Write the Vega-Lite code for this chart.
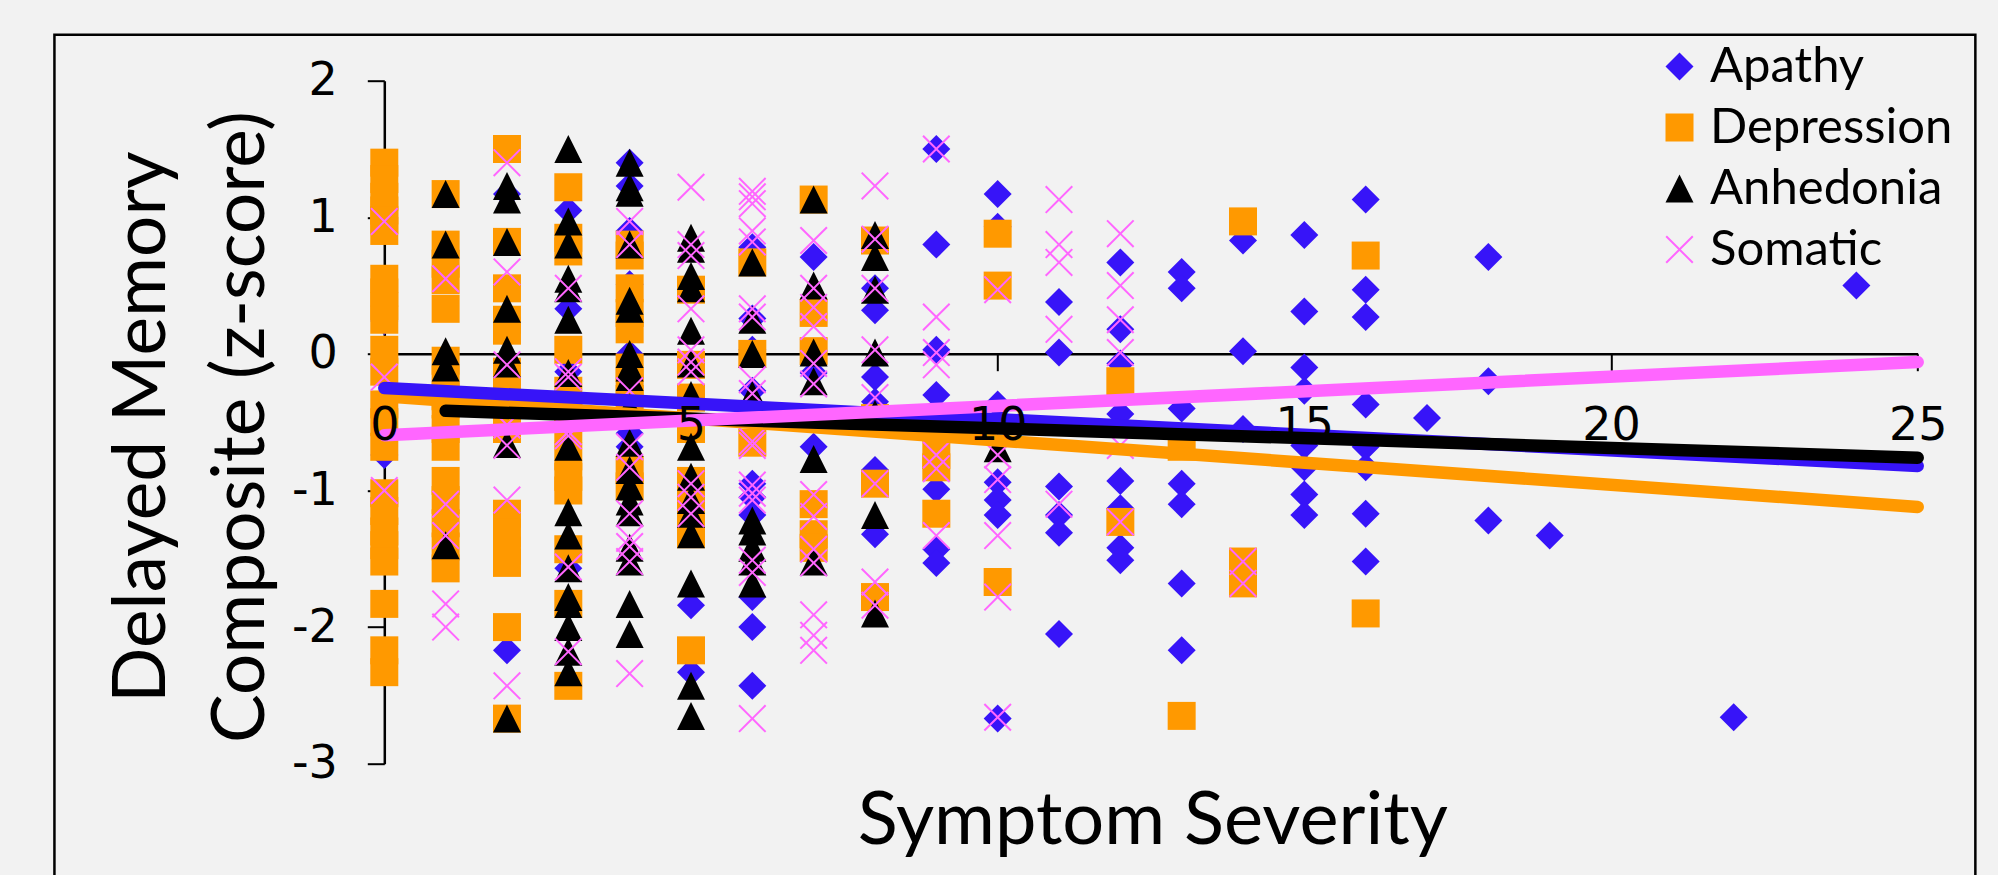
{"$schema":"https://vega.github.io/schema/vega-lite/v6.json","width":1533.4,"height":683,"autosize":{"type":"none"},"padding":{"left":384.3,"top":80.7,"right":80.3,"bottom":111.3},"background":"#f2f2f2","config":{"view":{"stroke":null}},"resolve":{"axis":{"x":"independent","y":"independent"}},"layer":[{"data":{"values":[{"frame":1}]},"mark":{"type":"rect","fill":"transparent","stroke":"#000000","strokeWidth":2.5,"clip":false},"encoding":{"x":{"datum":-5.378,"type":"quantitative","axis":null,"scale":{"domain":[0,25],"nice":false,"zero":false}},"x2":{"datum":25.94},"y":{"datum":2.337,"type":"quantitative","axis":null,"scale":{"domain":[-3,2],"nice":false,"zero":false}},"y2":{"datum":-4.3}}},{"data":{"values":[
{"series":"Apathy","severity":0,"memory":0.24},{"series":"Apathy","severity":0,"memory":-0.74},
{"series":"Apathy","severity":2,"memory":1.17},{"series":"Apathy","severity":2,"memory":-2.17},
{"series":"Apathy","severity":3,"memory":1.05},{"series":"Apathy","severity":3,"memory":0.33},{"series":"Apathy","severity":3,"memory":-0.13},{"series":"Apathy","severity":3,"memory":-1.57},
{"series":"Apathy","severity":4,"memory":1.4},{"series":"Apathy","severity":4,"memory":1.23},{"series":"Apathy","severity":4,"memory":0.9},{"series":"Apathy","severity":4,"memory":0.51},{"series":"Apathy","severity":4,"memory":0.0},{"series":"Apathy","severity":4,"memory":-0.58},{"series":"Apathy","severity":4,"memory":-0.68},
{"series":"Apathy","severity":5,"memory":-1.84},{"series":"Apathy","severity":5,"memory":-2.33},
{"series":"Apathy","severity":6,"memory":0.78},{"series":"Apathy","severity":6,"memory":0.26},{"series":"Apathy","severity":6,"memory":0.03},{"series":"Apathy","severity":6,"memory":-0.27},{"series":"Apathy","severity":6,"memory":-0.95},{"series":"Apathy","severity":6,"memory":-1.05},{"series":"Apathy","severity":6,"memory":-1.18},{"series":"Apathy","severity":6,"memory":-1.78},{"series":"Apathy","severity":6,"memory":-2.0},{"series":"Apathy","severity":6,"memory":-2.43},
{"series":"Apathy","severity":7,"memory":0.71},{"series":"Apathy","severity":7,"memory":-0.14},{"series":"Apathy","severity":7,"memory":-0.68},
{"series":"Apathy","severity":8,"memory":0.48},{"series":"Apathy","severity":8,"memory":0.32},{"series":"Apathy","severity":8,"memory":-0.17},{"series":"Apathy","severity":8,"memory":-0.35},{"series":"Apathy","severity":8,"memory":-0.85},{"series":"Apathy","severity":8,"memory":-1.32},
{"series":"Apathy","severity":9,"memory":1.5},{"series":"Apathy","severity":9,"memory":0.8},{"series":"Apathy","severity":9,"memory":0.03},{"series":"Apathy","severity":9,"memory":-0.3},{"series":"Apathy","severity":9,"memory":-0.99},{"series":"Apathy","severity":9,"memory":-1.43},{"series":"Apathy","severity":9,"memory":-1.53},
{"series":"Apathy","severity":10,"memory":1.17},{"series":"Apathy","severity":10,"memory":0.93},{"series":"Apathy","severity":10,"memory":-0.37},{"series":"Apathy","severity":10,"memory":-0.94},{"series":"Apathy","severity":10,"memory":-1.07},{"series":"Apathy","severity":10,"memory":-1.18},{"series":"Apathy","severity":10,"memory":-2.67},
{"series":"Apathy","severity":11,"memory":0.38},{"series":"Apathy","severity":11,"memory":0.01},{"series":"Apathy","severity":11,"memory":-0.97},{"series":"Apathy","severity":11,"memory":-1.18},{"series":"Apathy","severity":11,"memory":-1.31},{"series":"Apathy","severity":11,"memory":-2.05},
{"series":"Apathy","severity":12,"memory":0.67},{"series":"Apathy","severity":12,"memory":0.18},{"series":"Apathy","severity":12,"memory":-0.07},{"series":"Apathy","severity":12,"memory":-0.44},{"series":"Apathy","severity":12,"memory":-0.93},{"series":"Apathy","severity":12,"memory":-1.13},{"series":"Apathy","severity":12,"memory":-1.42},{"series":"Apathy","severity":12,"memory":-1.51},
{"series":"Apathy","severity":13,"memory":0.6},{"series":"Apathy","severity":13,"memory":0.48},{"series":"Apathy","severity":13,"memory":-0.4},{"series":"Apathy","severity":13,"memory":-0.95},{"series":"Apathy","severity":13,"memory":-1.1},{"series":"Apathy","severity":13,"memory":-1.68},{"series":"Apathy","severity":13,"memory":-2.17},
{"series":"Apathy","severity":14,"memory":0.83},{"series":"Apathy","severity":14,"memory":0.02},{"series":"Apathy","severity":14,"memory":-0.55},
{"series":"Apathy","severity":15,"memory":0.87},{"series":"Apathy","severity":15,"memory":0.31},{"series":"Apathy","severity":15,"memory":-0.1},{"series":"Apathy","severity":15,"memory":-0.27},{"series":"Apathy","severity":15,"memory":-0.67},{"series":"Apathy","severity":15,"memory":-0.83},{"series":"Apathy","severity":15,"memory":-1.03},{"series":"Apathy","severity":15,"memory":-1.18},
{"series":"Apathy","severity":16,"memory":1.13},{"series":"Apathy","severity":16,"memory":0.47},{"series":"Apathy","severity":16,"memory":0.27},{"series":"Apathy","severity":16,"memory":-0.37},{"series":"Apathy","severity":16,"memory":-0.68},{"series":"Apathy","severity":16,"memory":-0.83},{"series":"Apathy","severity":16,"memory":-1.17},{"series":"Apathy","severity":16,"memory":-1.52},
{"series":"Apathy","severity":17,"memory":-0.47},{"series":"Apathy","severity":18,"memory":0.71},{"series":"Apathy","severity":18,"memory":-0.2},{"series":"Apathy","severity":18,"memory":-1.22},{"series":"Apathy","severity":19,"memory":-1.33},{"series":"Apathy","severity":22,"memory":-2.66},{"series":"Apathy","severity":24,"memory":0.5},
{"series":"Depression","severity":0,"memory":1.4},{"series":"Depression","severity":0,"memory":1.28},{"series":"Depression","severity":0,"memory":1.15},{"series":"Depression","severity":0,"memory":1.05},{"series":"Depression","severity":0,"memory":0.98},{"series":"Depression","severity":0,"memory":0.9},{"series":"Depression","severity":0,"memory":0.55},{"series":"Depression","severity":0,"memory":0.45},{"series":"Depression","severity":0,"memory":0.35},{"series":"Depression","severity":0,"memory":0.25},{"series":"Depression","severity":0,"memory":0.03},{"series":"Depression","severity":0,"memory":-0.13},{"series":"Depression","severity":0,"memory":-0.37},{"series":"Depression","severity":0,"memory":-0.5},{"series":"Depression","severity":0,"memory":-0.68},{"series":"Depression","severity":0,"memory":-1.02},{"series":"Depression","severity":0,"memory":-1.15},{"series":"Depression","severity":0,"memory":-1.3},{"series":"Depression","severity":0,"memory":-1.4},{"series":"Depression","severity":0,"memory":-1.52},{"series":"Depression","severity":0,"memory":-1.83},{"series":"Depression","severity":0,"memory":-2.17},{"series":"Depression","severity":0,"memory":-2.33},
{"series":"Depression","severity":1,"memory":1.17},{"series":"Depression","severity":1,"memory":0.8},{"series":"Depression","severity":1,"memory":0.66},{"series":"Depression","severity":1,"memory":0.54},{"series":"Depression","severity":1,"memory":0.33},{"series":"Depression","severity":1,"memory":-0.05},{"series":"Depression","severity":1,"memory":-0.19},{"series":"Depression","severity":1,"memory":-0.31},{"series":"Depression","severity":1,"memory":-0.37},{"series":"Depression","severity":1,"memory":-0.55},{"series":"Depression","severity":1,"memory":-0.68},{"series":"Depression","severity":1,"memory":-0.93},{"series":"Depression","severity":1,"memory":-1.07},{"series":"Depression","severity":1,"memory":-1.24},{"series":"Depression","severity":1,"memory":-1.41},{"series":"Depression","severity":1,"memory":-1.57},
{"series":"Depression","severity":2,"memory":1.5},{"series":"Depression","severity":2,"memory":0.82},{"series":"Depression","severity":2,"memory":0.48},{"series":"Depression","severity":2,"memory":0.25},{"series":"Depression","severity":2,"memory":0.17},{"series":"Depression","severity":2,"memory":-0.13},{"series":"Depression","severity":2,"memory":-0.29},{"series":"Depression","severity":2,"memory":-0.44},{"series":"Depression","severity":2,"memory":-0.55},{"series":"Depression","severity":2,"memory":-1.17},{"series":"Depression","severity":2,"memory":-1.31},{"series":"Depression","severity":2,"memory":-1.44},{"series":"Depression","severity":2,"memory":-1.53},{"series":"Depression","severity":2,"memory":-2.0},{"series":"Depression","severity":2,"memory":-2.67},
{"series":"Depression","severity":3,"memory":1.22},{"series":"Depression","severity":3,"memory":0.85},{"series":"Depression","severity":3,"memory":0.75},{"series":"Depression","severity":3,"memory":0.03},{"series":"Depression","severity":3,"memory":-0.27},{"series":"Depression","severity":3,"memory":-0.4},{"series":"Depression","severity":3,"memory":-0.55},{"series":"Depression","severity":3,"memory":-0.75},{"series":"Depression","severity":3,"memory":-0.9},{"series":"Depression","severity":3,"memory":-1.0},{"series":"Depression","severity":3,"memory":-1.43},{"series":"Depression","severity":3,"memory":-1.83},{"series":"Depression","severity":3,"memory":-2.43},
{"series":"Depression","severity":4,"memory":0.8},{"series":"Depression","severity":4,"memory":0.72},{"series":"Depression","severity":4,"memory":0.48},{"series":"Depression","severity":4,"memory":0.3},{"series":"Depression","severity":4,"memory":0.18},{"series":"Depression","severity":4,"memory":-0.1},{"series":"Depression","severity":4,"memory":-0.2},{"series":"Depression","severity":4,"memory":-0.33},{"series":"Depression","severity":4,"memory":-0.85},{"series":"Depression","severity":4,"memory":-0.97},
{"series":"Depression","severity":5,"memory":0.47},{"series":"Depression","severity":5,"memory":-0.08},{"series":"Depression","severity":5,"memory":-0.32},{"series":"Depression","severity":5,"memory":-0.55},{"series":"Depression","severity":5,"memory":-0.93},{"series":"Depression","severity":5,"memory":-1.05},{"series":"Depression","severity":5,"memory":-1.18},{"series":"Depression","severity":5,"memory":-1.32},{"series":"Depression","severity":5,"memory":-2.17},
{"series":"Depression","severity":6,"memory":0.67},{"series":"Depression","severity":6,"memory":0.0},{"series":"Depression","severity":6,"memory":-0.65},
{"series":"Depression","severity":7,"memory":1.13},{"series":"Depression","severity":7,"memory":0.3},{"series":"Depression","severity":7,"memory":0.02},{"series":"Depression","severity":7,"memory":-1.1},{"series":"Depression","severity":7,"memory":-1.32},{"series":"Depression","severity":7,"memory":-1.42},
{"series":"Depression","severity":8,"memory":0.83},{"series":"Depression","severity":8,"memory":-0.47},{"series":"Depression","severity":8,"memory":-0.95},{"series":"Depression","severity":8,"memory":-1.78},
{"series":"Depression","severity":9,"memory":-0.74},{"series":"Depression","severity":9,"memory":-0.83},{"series":"Depression","severity":9,"memory":-1.17},
{"series":"Depression","severity":10,"memory":0.88},{"series":"Depression","severity":10,"memory":0.5},{"series":"Depression","severity":10,"memory":-1.67},
{"series":"Depression","severity":12,"memory":-0.2},{"series":"Depression","severity":12,"memory":-1.23},
{"series":"Depression","severity":13,"memory":-0.68},{"series":"Depression","severity":13,"memory":-2.65},
{"series":"Depression","severity":14,"memory":0.97},{"series":"Depression","severity":14,"memory":-1.52},{"series":"Depression","severity":14,"memory":-1.68},
{"series":"Depression","severity":16,"memory":0.72},{"series":"Depression","severity":16,"memory":-1.9},
{"series":"Anhedonia","severity":1,"memory":1.17},{"series":"Anhedonia","severity":1,"memory":0.8},{"series":"Anhedonia","severity":1,"memory":0.02},{"series":"Anhedonia","severity":1,"memory":-0.1},{"series":"Anhedonia","severity":1,"memory":-1.4},
{"series":"Anhedonia","severity":2,"memory":1.23},{"series":"Anhedonia","severity":2,"memory":1.13},{"series":"Anhedonia","severity":2,"memory":0.82},{"series":"Anhedonia","severity":2,"memory":0.33},{"series":"Anhedonia","severity":2,"memory":0.03},{"series":"Anhedonia","severity":2,"memory":-0.07},{"series":"Anhedonia","severity":2,"memory":-0.66},{"series":"Anhedonia","severity":2,"memory":-2.67},
{"series":"Anhedonia","severity":3,"memory":1.5},{"series":"Anhedonia","severity":3,"memory":0.97},{"series":"Anhedonia","severity":3,"memory":0.8},{"series":"Anhedonia","severity":3,"memory":0.55},{"series":"Anhedonia","severity":3,"memory":0.48},{"series":"Anhedonia","severity":3,"memory":0.25},{"series":"Anhedonia","severity":3,"memory":-0.14},{"series":"Anhedonia","severity":3,"memory":-0.68},{"series":"Anhedonia","severity":3,"memory":-1.16},{"series":"Anhedonia","severity":3,"memory":-1.33},{"series":"Anhedonia","severity":3,"memory":-1.57},{"series":"Anhedonia","severity":3,"memory":-1.78},{"series":"Anhedonia","severity":3,"memory":-1.83},{"series":"Anhedonia","severity":3,"memory":-2.0},{"series":"Anhedonia","severity":3,"memory":-2.18},{"series":"Anhedonia","severity":3,"memory":-2.33},
{"series":"Anhedonia","severity":4,"memory":1.4},{"series":"Anhedonia","severity":4,"memory":1.22},{"series":"Anhedonia","severity":4,"memory":1.18},{"series":"Anhedonia","severity":4,"memory":0.8},{"series":"Anhedonia","severity":4,"memory":0.39},{"series":"Anhedonia","severity":4,"memory":0.33},{"series":"Anhedonia","severity":4,"memory":0.0},{"series":"Anhedonia","severity":4,"memory":-0.1},{"series":"Anhedonia","severity":4,"memory":-0.17},{"series":"Anhedonia","severity":4,"memory":-0.39},{"series":"Anhedonia","severity":4,"memory":-0.65},{"series":"Anhedonia","severity":4,"memory":-0.85},{"series":"Anhedonia","severity":4,"memory":-0.97},{"series":"Anhedonia","severity":4,"memory":-1.08},{"series":"Anhedonia","severity":4,"memory":-1.16},{"series":"Anhedonia","severity":4,"memory":-1.42},{"series":"Anhedonia","severity":4,"memory":-1.52},{"series":"Anhedonia","severity":4,"memory":-1.83},{"series":"Anhedonia","severity":4,"memory":-2.05},
{"series":"Anhedonia","severity":5,"memory":0.85},{"series":"Anhedonia","severity":5,"memory":0.77},{"series":"Anhedonia","severity":5,"memory":0.57},{"series":"Anhedonia","severity":5,"memory":0.48},{"series":"Anhedonia","severity":5,"memory":0.17},{"series":"Anhedonia","severity":5,"memory":-0.07},{"series":"Anhedonia","severity":5,"memory":-0.3},{"series":"Anhedonia","severity":5,"memory":-0.68},{"series":"Anhedonia","severity":5,"memory":-0.9},{"series":"Anhedonia","severity":5,"memory":-1.07},{"series":"Anhedonia","severity":5,"memory":-1.17},{"series":"Anhedonia","severity":5,"memory":-1.32},{"series":"Anhedonia","severity":5,"memory":-1.68},{"series":"Anhedonia","severity":5,"memory":-2.43},{"series":"Anhedonia","severity":5,"memory":-2.65},
{"series":"Anhedonia","severity":6,"memory":0.67},{"series":"Anhedonia","severity":6,"memory":0.25},{"series":"Anhedonia","severity":6,"memory":0.0},{"series":"Anhedonia","severity":6,"memory":-0.3},{"series":"Anhedonia","severity":6,"memory":-0.35},{"series":"Anhedonia","severity":6,"memory":-1.22},{"series":"Anhedonia","severity":6,"memory":-1.3},{"series":"Anhedonia","severity":6,"memory":-1.42},{"series":"Anhedonia","severity":6,"memory":-1.52},{"series":"Anhedonia","severity":6,"memory":-1.68},
{"series":"Anhedonia","severity":7,"memory":1.13},{"series":"Anhedonia","severity":7,"memory":0.5},{"series":"Anhedonia","severity":7,"memory":0.01},{"series":"Anhedonia","severity":7,"memory":-0.2},{"series":"Anhedonia","severity":7,"memory":-0.77},{"series":"Anhedonia","severity":7,"memory":-1.52},
{"series":"Anhedonia","severity":8,"memory":0.87},{"series":"Anhedonia","severity":8,"memory":0.71},{"series":"Anhedonia","severity":8,"memory":0.47},{"series":"Anhedonia","severity":8,"memory":0.01},{"series":"Anhedonia","severity":8,"memory":-0.44},{"series":"Anhedonia","severity":8,"memory":-1.18},{"series":"Anhedonia","severity":8,"memory":-1.9},
{"series":"Anhedonia","severity":10,"memory":-0.69},
{"series":"Somatic","severity":0,"memory":0.97},{"series":"Somatic","severity":0,"memory":-0.17},{"series":"Somatic","severity":0,"memory":-1.0},
{"series":"Somatic","severity":1,"memory":0.55},{"series":"Somatic","severity":1,"memory":-1.1},{"series":"Somatic","severity":1,"memory":-1.33},{"series":"Somatic","severity":1,"memory":-1.83},{"series":"Somatic","severity":1,"memory":-2.0},
{"series":"Somatic","severity":2,"memory":1.4},{"series":"Somatic","severity":2,"memory":0.6},{"series":"Somatic","severity":2,"memory":-0.08},{"series":"Somatic","severity":2,"memory":-0.52},{"series":"Somatic","severity":2,"memory":-0.67},{"series":"Somatic","severity":2,"memory":-1.07},{"series":"Somatic","severity":2,"memory":-2.43},
{"series":"Somatic","severity":3,"memory":0.48},{"series":"Somatic","severity":3,"memory":-0.13},{"series":"Somatic","severity":3,"memory":-0.17},{"series":"Somatic","severity":3,"memory":-0.57},{"series":"Somatic","severity":3,"memory":-0.6},{"series":"Somatic","severity":3,"memory":-1.56},{"series":"Somatic","severity":3,"memory":-2.18},
{"series":"Somatic","severity":4,"memory":0.97},{"series":"Somatic","severity":4,"memory":0.8},{"series":"Somatic","severity":4,"memory":-0.27},{"series":"Somatic","severity":4,"memory":-0.68},{"series":"Somatic","severity":4,"memory":-0.83},{"series":"Somatic","severity":4,"memory":-1.17},{"series":"Somatic","severity":4,"memory":-1.35},{"series":"Somatic","severity":4,"memory":-1.41},{"series":"Somatic","severity":4,"memory":-1.52},{"series":"Somatic","severity":4,"memory":-2.34},
{"series":"Somatic","severity":5,"memory":1.22},{"series":"Somatic","severity":5,"memory":0.8},{"series":"Somatic","severity":5,"memory":0.72},{"series":"Somatic","severity":5,"memory":0.33},{"series":"Somatic","severity":5,"memory":0.03},{"series":"Somatic","severity":5,"memory":-0.06},{"series":"Somatic","severity":5,"memory":-0.13},{"series":"Somatic","severity":5,"memory":-0.95},{"series":"Somatic","severity":5,"memory":-1.05},{"series":"Somatic","severity":5,"memory":-1.17},
{"series":"Somatic","severity":6,"memory":1.19},{"series":"Somatic","severity":6,"memory":1.15},{"series":"Somatic","severity":6,"memory":1.1},{"series":"Somatic","severity":6,"memory":0.9},{"series":"Somatic","severity":6,"memory":0.82},{"series":"Somatic","severity":6,"memory":0.33},{"series":"Somatic","severity":6,"memory":0.27},{"series":"Somatic","severity":6,"memory":-0.19},{"series":"Somatic","severity":6,"memory":-0.29},{"series":"Somatic","severity":6,"memory":-0.64},{"series":"Somatic","severity":6,"memory":-0.67},{"series":"Somatic","severity":6,"memory":-0.96},{"series":"Somatic","severity":6,"memory":-1.02},{"series":"Somatic","severity":6,"memory":-1.07},{"series":"Somatic","severity":6,"memory":-1.51},{"series":"Somatic","severity":6,"memory":-1.6},{"series":"Somatic","severity":6,"memory":-2.67},
{"series":"Somatic","severity":7,"memory":0.83},{"series":"Somatic","severity":7,"memory":0.48},{"series":"Somatic","severity":7,"memory":0.34},{"series":"Somatic","severity":7,"memory":0.2},{"series":"Somatic","severity":7,"memory":-0.07},{"series":"Somatic","severity":7,"memory":-0.22},{"series":"Somatic","severity":7,"memory":-1.03},{"series":"Somatic","severity":7,"memory":-1.19},{"series":"Somatic","severity":7,"memory":-1.43},{"series":"Somatic","severity":7,"memory":-1.53},{"series":"Somatic","severity":7,"memory":-1.91},{"series":"Somatic","severity":7,"memory":-2.06},{"series":"Somatic","severity":7,"memory":-2.17},
{"series":"Somatic","severity":8,"memory":1.23},{"series":"Somatic","severity":8,"memory":0.84},{"series":"Somatic","severity":8,"memory":0.48},{"series":"Somatic","severity":8,"memory":0.03},{"series":"Somatic","severity":8,"memory":-0.32},{"series":"Somatic","severity":8,"memory":-0.95},{"series":"Somatic","severity":8,"memory":-1.67},{"series":"Somatic","severity":8,"memory":-1.84},
{"series":"Somatic","severity":9,"memory":1.5},{"series":"Somatic","severity":9,"memory":0.27},{"series":"Somatic","severity":9,"memory":0.01},{"series":"Somatic","severity":9,"memory":-0.08},{"series":"Somatic","severity":9,"memory":-0.74},{"series":"Somatic","severity":9,"memory":-0.84},{"series":"Somatic","severity":9,"memory":-1.33},
{"series":"Somatic","severity":10,"memory":0.47},{"series":"Somatic","severity":10,"memory":-0.74},{"series":"Somatic","severity":10,"memory":-0.92},{"series":"Somatic","severity":10,"memory":-1.33},{"series":"Somatic","severity":10,"memory":-1.78},{"series":"Somatic","severity":10,"memory":-2.66},
{"series":"Somatic","severity":11,"memory":1.13},{"series":"Somatic","severity":11,"memory":0.8},{"series":"Somatic","severity":11,"memory":0.67},{"series":"Somatic","severity":11,"memory":0.18},{"series":"Somatic","severity":11,"memory":-1.1},
{"series":"Somatic","severity":12,"memory":0.88},{"series":"Somatic","severity":12,"memory":0.5},{"series":"Somatic","severity":12,"memory":0.25},{"series":"Somatic","severity":12,"memory":0.01},{"series":"Somatic","severity":12,"memory":-0.67},{"series":"Somatic","severity":12,"memory":-1.23},
{"series":"Somatic","severity":14,"memory":-1.52},{"series":"Somatic","severity":14,"memory":-1.68}
]},"mark":{"type":"point","filled":true,"opacity":1,"size":784},"encoding":{"x":{"field":"severity","type":"quantitative","scale":{"domain":[0,25],"nice":false,"zero":false},"axis":{"orient":"bottom","offset":-410,"values":[0,5,10,15,20,25],"grid":false,"labels":false,"domainColor":"#000000","domainWidth":2.5,"tickColor":"#000000","tickWidth":2,"tickSize":17,"zindex":0,"title":"Symptom Severity","titleFont":"Lato","titleFontWeight":"normal","titleFontSize":74,"titleColor":"#000000","titleX":768,"titleY":468,"titleBaseline":"middle","titleAlign":"center"}},"y":{"field":"memory","type":"quantitative","scale":{"domain":[-3,2],"nice":false,"zero":false},"axis":{"orient":"left","values":[-3,-2,-1,0,1,2],"grid":false,"labelExpr":"'' + datum.value","labelFont":"DejaVu Sans","labelFontSize":46,"labelColor":"#000000","labelPadding":30,"domainColor":"#000000","domainWidth":2.5,"tickColor":"#000000","tickWidth":2,"tickSize":17,"zindex":0,"title":["Delayed Memory","Composite  (z-score)"],"titleFont":"Lato","titleFontWeight":"normal","titleFontSize":73,"titleLineHeight":99,"titleColor":"#000000","titleX":-242,"titleY":346,"titleAlign":"center","titleBaseline":"middle"}},"color":{"field":"series","type":"nominal","scale":{"domain":["Apathy","Depression","Anhedonia","Somatic"],"range":["#3714f8","#ff9900","#000000","#ff66ff"]},"legend":{"orient":"none","legendX":1270.7,"legendY":-38.7,"title":null,"padding":0,"symbolSize":784,"labelFont":"Lato","labelFontSize":49,"labelColor":"#000000","labelOffset":6,"labelLimit":400,"rowPadding":11,"symbolStrokeWidth":0}},"shape":{"field":"series","type":"nominal","scale":{"domain":["Apathy","Depression","Anhedonia","Somatic"],"range":["M0 -1 L1 0 L0 1 L-1 0 Z","M-1 -1 L1 -1 L1 1 L-1 1 Z","M0 -1 L1 1 L-1 1 Z","M0 -0.1 L0.9 -1 L1 -0.9 L0.1 0 L1 0.9 L0.9 1 L0 0.1 L-0.9 1 L-1 0.9 L-0.1 0 L-1 -0.9 L-0.9 -1 Z"]}}}},{"data":{"values":[
{"series":"Depression","severity":0,"memory":-0.31},{"series":"Depression","severity":25,"memory":-1.12},
{"series":"Apathy","severity":0,"memory":-0.25},{"series":"Apathy","severity":25,"memory":-0.82},
{"series":"Anhedonia","severity":1,"memory":-0.417},{"series":"Anhedonia","severity":25,"memory":-0.76},
{"series":"Somatic","severity":0,"memory":-0.595},{"series":"Somatic","severity":25,"memory":-0.06}
]},"mark":{"type":"line","strokeWidth":12.5,"strokeCap":"round"},"encoding":{"x":{"field":"severity","type":"quantitative","scale":{"domain":[0,25],"nice":false,"zero":false},"axis":{"orient":"bottom","offset":-410,"values":[0,5,10,15,20,25],"grid":false,"domain":false,"ticks":false,"labelFont":"DejaVu Sans","labelFontSize":46,"labelColor":"#000000","labelPadding":72,"labelBaseline":"middle","labelFlush":false,"labelOverlap":false,"zindex":1,"title":null}},"y":{"field":"memory","type":"quantitative","scale":{"domain":[-3,2],"nice":false,"zero":false},"axis":null},"color":{"field":"series","type":"nominal","legend":null,"sort":null},"order":{"field":"severity"}}}]}
